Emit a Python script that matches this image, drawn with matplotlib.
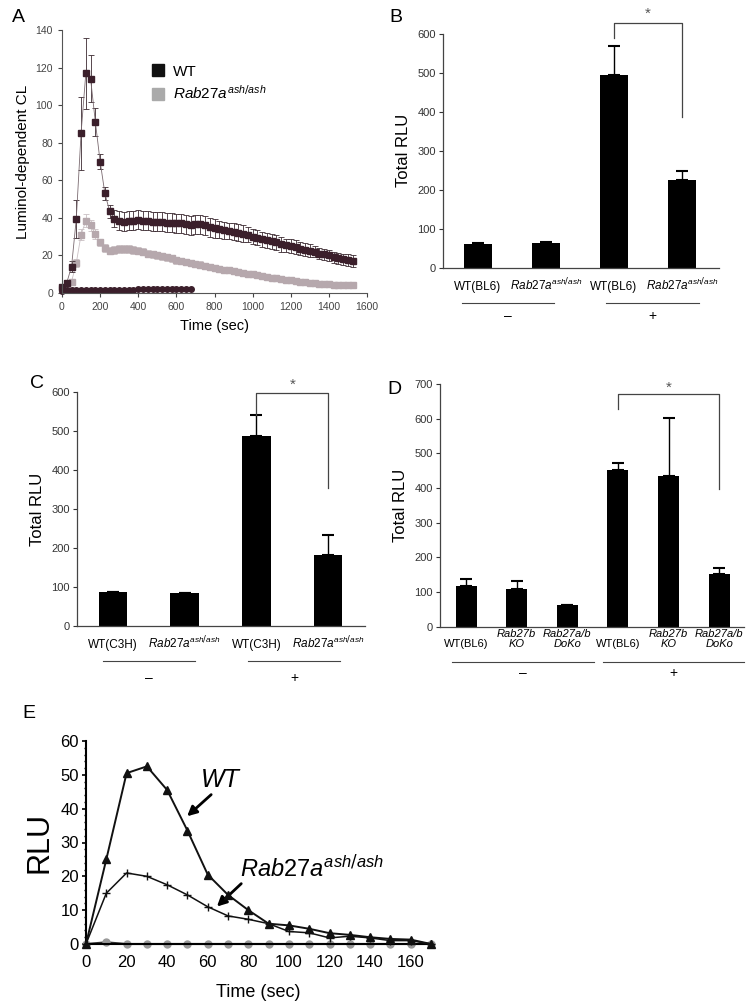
import numpy as np
import matplotlib
matplotlib.use("Agg")
import matplotlib.pyplot as plt
from matplotlib.lines import Line2D

plt.rcParams['font.family'] = ['Liberation Sans', 'DejaVu Sans']
plt.rcParams['mathtext.fontset'] = 'custom'
plt.rcParams['mathtext.rm'] = 'Liberation Sans'
plt.rcParams['mathtext.it'] = 'Liberation Sans:italic'
plt.rcParams['mathtext.bf'] = 'Liberation Sans:bold'
plt.rcParams['mathtext.sf'] = 'DejaVu Sans'

RAB = r'$\mathit{Rab27a}^{\mathit{ash}\mathsf{/}\mathit{ash}}$'

# ---- panel A: luminol-dependent CL time course ----
a_time = list(range(0, 1526, 25))
a_wt = [3, 5.5, 14, 39.5, 85, 117, 114, 91, 70, 53,
        43.5, 39.5, 38.5, 38, 38.5, 38.5, 39, 38.5, 38.5, 38,
        38, 38, 37.5, 37.5, 37, 37, 36.5, 36, 36.5, 36.5,
        36, 35, 34.5, 34, 33.5, 33, 32.5, 32, 31.5, 31,
        30, 29.5, 28.5, 28, 27.5, 27, 26, 25.5, 25, 24.5,
        23.5, 23, 22.5, 22, 21, 20.5, 20, 19, 18.5, 18,
        17.5, 17]
a_wt_err = [0.8, 1.5, 3, 10, 19.5, 19, 12.5, 7.5, 4, 3.5,
            3.5, 4.5, 5, 5, 5, 5, 5, 5, 5, 5,
            5, 5, 5, 5, 5, 5, 5, 5, 5, 5,
            5, 5, 5, 4.5, 4.5, 4.5, 4.5, 4.5, 4.5, 4,
            4, 4, 4, 4, 4, 4, 4, 3.5, 3.5, 3.5,
            3.5, 3.5, 3.5, 3, 3, 3, 3, 3, 3, 3,
            3, 3]
a_rab = [2, 3, 6, 16, 31, 38.5, 36, 31.5, 27, 24,
         22.5, 23, 23.5, 23.5, 23.5, 23, 22.5, 22, 21, 20.5,
         20, 19.5, 19, 18.5, 17.5, 17, 16.5, 16, 15.5, 15,
         14.5, 14, 13.5, 13, 12.5, 12, 11.5, 11, 10.5, 10,
         10, 9.5, 9, 8.5, 8, 8, 7.5, 7, 7, 6.5,
         6, 6, 5.5, 5.5, 5, 5, 5, 4.5, 4.5, 4.5,
         4.5, 4.3]
a_rab_err = [0.5, 1, 1.5, 2, 3, 3.5, 3, 2.5, 2, 2,
             2, 2, 2, 2, 2, 2, 2, 2, 2, 2,
             1.8, 1.8, 1.8, 1.8, 1.8, 1.8, 1.8, 1.8, 1.8, 1.8,
             1.5, 1.5, 1.5, 1.5, 1.5, 1.5, 1.5, 1.5, 1.5, 1.5,
             1.2, 1.2, 1.2, 1.2, 1.2, 1.2, 1.2, 1.2, 1.2, 1.2,
             1, 1, 1, 1, 1, 1, 1, 1, 1, 1,
             1, 1]
a_ctrl_time = list(range(0, 676, 25))
a_ctrl = [1.2, 1.5, 1.5, 1.6, 1.6, 1.6, 1.7, 1.7, 1.7, 1.7,
          1.8, 1.8, 1.8, 1.8, 1.8, 1.8, 1.9, 1.9, 1.9, 1.9,
          1.9, 2, 2, 2, 2, 2, 2, 2.1]

# ---- panel B ----
b_labels = ['WT(BL6)', RAB, 'WT(BL6)', RAB]
b_vals = [62, 63, 495, 225]
b_err = [2, 2, 75, 22]

# ---- panel C ----
c_labels = ['WT(C3H)', RAB, 'WT(C3H)', RAB]
c_vals = [88, 85, 488, 183]
c_err = [0, 0, 54, 51]

# ---- panel D ----
d_labels = ['WT(BL6)', 'Rab27b\nKO', 'Rab27a/b\nDoKo', 'WT(BL6)', 'Rab27b\nKO', 'Rab27a/b\nDoKo']
d_vals = [117, 110, 62, 452, 436, 153]
d_err = [20, 23, 2, 20, 166, 17]

# ---- panel E ----
e_time = [0, 10, 20, 30, 40, 50, 60, 70, 80, 90, 100, 110, 120, 130, 140, 150, 160, 170]
e_wt = [0, 25, 50.5, 52.5, 45.5, 33.5, 20.5, 14.5, 10, 6, 5.5, 4.5, 3.2, 2.7, 2, 1.5, 1.3, 0]
e_rab = [0, 15, 21, 20, 17.5, 14.5, 11, 8.3, 7.3, 6, 3.7, 3.3, 1.8, 2.3, 1.8, 1.0, 1.0, 0]
e_ctrl = [0, 0.5, 0, 0, 0, 0, 0, 0, 0, 0, 0, 0, 0, 0, 0, 0, 0, 0]

W, H = 752, 1008
fig = plt.figure(figsize=(W / 100, H / 100), dpi=100)


def box(left, right, top, bottom):
    # pixel box -> figure fraction
    return [left / W, 1 - bottom / H, (right - left) / W, (bottom - top) / H]


# ================= A =================
ax = fig.add_axes(box(62, 367, 30, 293))
ax.errorbar(a_time, a_rab, yerr=a_rab_err, fmt='none', ecolor='#c9bfc3',
            elinewidth=0.6, capsize=2, capthick=0.6)
ax.plot(a_time, a_rab, '-', color='#c9bfc3', lw=0.6, marker='s', ms=4,
        mfc='#b6a8ad', mec='#b6a8ad', clip_on=False)
ax.errorbar(a_time, a_wt, yerr=a_wt_err, fmt='none', ecolor='#3b2a31',
            elinewidth=0.6, capsize=2, capthick=0.6)
ax.plot(a_time, a_wt, '-', color='#7a6a70', lw=0.6, marker='s', ms=4,
        mfc='#3b1f2b', mec='#3b1f2b', clip_on=False)
ax.plot(a_ctrl_time, a_ctrl, '-', color='#3b1f2b', lw=0.6, marker='o', ms=4,
        mfc='#3b1f2b', mec='#3b1f2b', clip_on=False)
ax.set_xlim(0, 1600)
ax.set_ylim(0, 140)
ax.set_xticks(range(0, 1601, 200))
ax.set_yticks(range(0, 141, 20))
for s in ['top', 'right']:
    ax.spines[s].set_visible(False)
for s in ['left', 'bottom']:
    ax.spines[s].set_color('#555555')
    ax.spines[s].set_linewidth(0.8)
ax.tick_params(labelsize=7.5, colors='#444444', length=3, width=0.8)
ax.set_xlabel('Time (sec)', fontsize=10.5, labelpad=5)
ax.set_ylabel('Luminol-dependent CL', fontsize=11, labelpad=4)
handles = [Line2D([], [], ls='none', marker='s', ms=8, color='#111111'),
           Line2D([], [], ls='none', marker='s', ms=8, color='#aaaaaa')]
ax.legend(handles, ['WT', RAB], loc='upper left', bbox_to_anchor=(0.24, 0.92),
          frameon=False, fontsize=11, handletextpad=0.4, labelspacing=0.35,
          handlelength=1.2)
fig.text(12 / W, 1 - 18 / H, 'A', fontsize=14, va='center')


# ============ bar helper ============
def bar_panel(rect, labels, vals, err, ymax, ystep, xlim, width):
    ax = fig.add_axes(rect)
    x = np.arange(len(vals))
    ax.bar(x, vals, width=width, color='black', zorder=2)
    ax.errorbar(x, vals, yerr=[np.zeros(len(err)), err], fmt='none', ecolor='black',
                elinewidth=1, capsize=4, capthick=1.5, zorder=1)
    ax.set_xlim(*xlim)
    ax.set_ylim(0, ymax)
    ax.set_yticks(range(0, ymax + 1, ystep))
    ax.set_xticks([])
    for s in ['top', 'right']:
        ax.spines[s].set_visible(False)
    for s in ['left', 'bottom']:
        ax.spines[s].set_color('#444444')
        ax.spines[s].set_linewidth(0.9)
    ax.tick_params(axis='y', labelsize=8, colors='#333333', length=3, width=0.8, pad=2)
    ax.set_ylabel('Total RLU', fontsize=12, labelpad=5)
    return ax, x


def bracket(ax, x0, x1, yl, yr, ytop, ystar):
    ax.plot([x0, x0, x1, x1], [yl, ytop, ytop, yr], color='#444444', lw=0.9, clip_on=False)
    ax.text((x0 + x1) / 2, ystar, '*', ha='center', va='center', fontsize=11, color='#555555')


def groups(ax, segs, y_line, y_sign):
    tr = ax.get_xaxis_transform()
    for (a, b), sign in zip(segs, ['\u2013', '+']):
        ax.plot([a, b], [y_line, y_line], color='#444444', lw=0.8, transform=tr, clip_on=False)
        ax.text((a + b) / 2, y_sign, sign, transform=tr, ha='center', va='center',
                fontsize=10)


# ================= B =================
ax, x = bar_panel(box(443, 719, 34, 267.7), b_labels, b_vals, b_err, 600, 100,
                  (-0.515, 3.544), 0.41)
tr = ax.get_xaxis_transform()
for xi, lab in zip(x, b_labels):
    ax.text(xi, -0.095, lab, transform=tr, ha='center', va='baseline', fontsize=8.5)
bracket(ax, 2, 3, 589, 386, 629, 652)
groups(ax, [(-0.235, 1.118), (1.88, 3.25)], -0.151, -0.208)
fig.text(389 / W, 1 - 18 / H, 'B', fontsize=14, va='center')

# ================= C =================
ax, x = bar_panel(box(77, 365, 392, 626), c_labels, c_vals, c_err, 600, 100,
                  (-0.502, 3.515), 0.40)
tr = ax.get_xaxis_transform()
for xi, lab in zip(x, c_labels):
    ax.text(xi, -0.094, lab, transform=tr, ha='center', va='baseline', fontsize=8.5)
bracket(ax, 2, 3, 541, 354, 597, 618)
groups(ax, [(-0.14, 1.14), (1.88, 3.17)], -0.15, -0.222)
fig.text(30 / W, 1 - 383 / H, 'C', fontsize=14, va='center')

# ================= D =================
ax, x = bar_panel(box(440, 744, 384, 626.7), d_labels, d_vals, d_err, 700, 100,
                  (-0.514, 5.49), 0.415)
tr = ax.get_xaxis_transform()
for xi, lab in zip(x, d_labels):
    style = 'normal' if lab.startswith('WT') else 'italic'
    ax.text(xi, -0.0824, lab, transform=tr, ha='center', va='baseline', fontsize=8,
            style=style, linespacing=0.95)
bracket(ax, 3, 5, 628, 397, 671, 690)
groups(ax, [(-0.28, 2.53), (2.71, 5.49)], -0.1455, -0.19)
fig.text(387 / W, 1 - 389 / H, 'D', fontsize=14, va='center')

# ================= E =================
ax = fig.add_axes(box(86, 431, 741, 944))
ax.plot(e_time, e_ctrl, '-', color='#333333', lw=1.5, clip_on=False, zorder=1)
ax.plot(e_time, e_ctrl, 'o', color='#999999', ms=5, clip_on=False, zorder=2)
ax.plot(e_time, e_rab, '-', color='#111111', lw=1.1, marker='+', ms=6, mew=1,
        clip_on=False, zorder=3)
ax.plot(e_time, e_wt, '-', color='#111111', lw=1.4, marker='^', ms=5.5,
        clip_on=False, zorder=4)
ax.set_xlim(0, 170)
ax.set_ylim(0, 60)
ax.set_xticks(range(0, 161, 20))
ax.set_yticks(range(0, 61, 10))
ax.set_yticks(range(0, 61, 2), minor=True)
for s in ['top', 'right']:
    ax.spines[s].set_visible(False)
for s in ['left', 'bottom']:
    ax.spines[s].set_linewidth(1.5)
ax.tick_params(labelsize=12, length=3, width=1.2, pad=2)
ax.tick_params(axis='x', length=0, pad=8)
ax.tick_params(axis='y', which='minor', length=1.5, width=1)
ax.set_xlabel('Time (sec)', fontsize=13, labelpad=10)
ax.set_ylabel('RLU', fontsize=22, labelpad=4)
ax.text(66, 48.5, 'WT', fontsize=18, style='italic', ha='center', va='center')
ax.annotate('', xy=(48.8, 37.2), xytext=(62.7, 44.7),
            arrowprops=dict(arrowstyle='-|>', lw=2, color='black', mutation_scale=14))
ax.text(76, 22.4, RAB, fontsize=17, ha='left', va='center')
ax.annotate('', xy=(63.5, 10.5), xytext=(77.5, 18.4),
            arrowprops=dict(arrowstyle='-|>', lw=2, color='black', mutation_scale=14))
fig.text(22 / W, 1 - 713 / H, 'E', fontsize=14, va='center')

fig.savefig('out.png', dpi=100)
